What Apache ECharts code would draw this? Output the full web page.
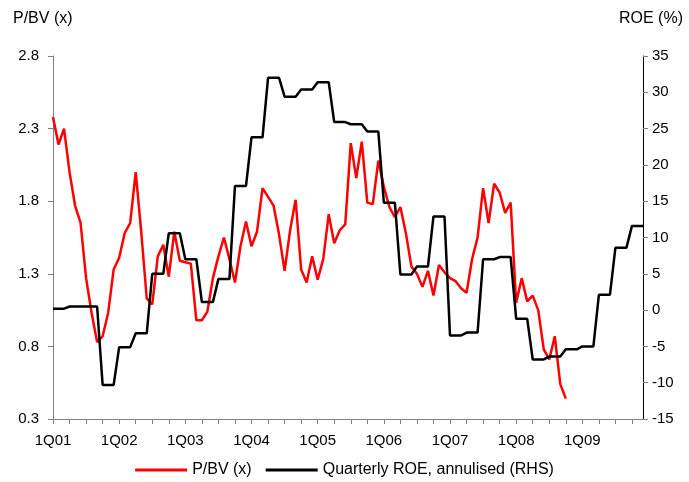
<!DOCTYPE html>
<html>
<head>
<meta charset="utf-8">
<script src="https://cdn.jsdelivr.net/npm/echarts@6/dist/echarts.min.js"></script>
<style>
  html, body { margin: 0; padding: 0; background: #fff; }
  #main { width: 689px; height: 482px; }
</style>
</head>
<body>
<div id="main"></div>
<script>
// year labels shown on the x axis (one per January)
var yearLabels = ['1Q01', '1Q02', '1Q03', '1Q04', '1Q05', '1Q06', '1Q07', '1Q08', '1Q09'];
var years = ['01', '02', '03', '04', '05', '06', '07', '08', '09'];
var monthNames = ['Jan', 'Feb', 'Mar', 'Apr', 'May', 'Jun', 'Jul', 'Aug', 'Sep', 'Oct', 'Nov', 'Dec'];

// P/BV (x), monthly, Jan 01 .. Oct 08
var pbv = [
    2.38, 2.19, 2.30, 2.00, 1.77, 1.65, 1.27, 1.03, 0.83, 0.87, 1.03, 1.33,
    1.41, 1.58, 1.65, 2.00, 1.59, 1.13, 1.09, 1.42, 1.50, 1.28, 1.59, 1.39,
    1.38, 1.37, 0.98, 0.98, 1.04, 1.27, 1.42, 1.55, 1.40, 1.24, 1.49, 1.66,
    1.49, 1.59, 1.89, 1.83, 1.77, 1.57, 1.32, 1.60, 1.81, 1.33, 1.24, 1.42,
    1.26, 1.40, 1.71, 1.51, 1.60, 1.64, 2.20, 1.96, 2.21, 1.79, 1.78, 2.08,
    1.90, 1.76, 1.69, 1.76, 1.58, 1.35, 1.30, 1.21, 1.32, 1.15, 1.36, 1.31,
    1.27, 1.25, 1.20, 1.17, 1.40, 1.55, 1.89, 1.65, 1.92, 1.86, 1.72, 1.79,
    1.10, 1.27, 1.11, 1.15, 1.05, 0.78, 0.71, 0.87, 0.54, 0.44
];

// quarterly ROE, annualised (%), shown for each month of its quarter
var roe = [
    0.2, 0.2, 0.2,   0.5, 0.5, 0.5,   0.5, 0.5, 0.5,   -10.3, -10.3, -10.3,
    -5.1, -5.1, -5.1,   -3.2, -3.2, -3.2,   5.0, 5.0, 5.0,   10.6, 10.6, 10.6,
    7.0, 7.0, 7.0,   1.1, 1.1, 1.1,   4.3, 4.3, 4.3,   17.1, 17.1, 17.1,
    23.8, 23.8, 23.8,   32.0, 32.0, 32.0,   29.4, 29.4, 29.4,   30.4, 30.4, 30.4,
    31.4, 31.4, 31.4,   25.9, 25.9, 25.9,   25.6, 25.6, 25.6,   24.6, 24.6, 24.6,
    14.8, 14.8, 14.8,   4.9, 4.9, 4.9,   6.0, 6.0, 6.0,   12.9, 12.9, 12.9,
    -3.5, -3.5, -3.5,   -3.1, -3.1, -3.1,   7.0, 7.0, 7.0,   7.3, 7.3, 7.3,
    -1.2, -1.2, -1.2,   -6.8, -6.8, -6.8,   -6.4, -6.4, -6.4,   -5.4, -5.4, -5.4,
    -5.0, -5.0, -5.0,   2.1, 2.1, 2.1,   8.6, 8.6, 8.6,   11.6, 11.6, 11.6
];

var leftTicks = [0.3, 0.8, 1.3, 1.8, 2.3, 2.8];

var months = [];
years.forEach(function (y) {
    monthNames.forEach(function (m) { months.push(m + '-' + y); });
});

var font = '"Liberation Sans", Arial, sans-serif';

var myChart = echarts.init(document.getElementById('main'));
myChart.setOption({
    animation: false,
    backgroundColor: '#fff',
    textStyle: { fontFamily: font, color: '#000' },
    grid: { left: 53, right: 46, top: 56, bottom: 63 },
    graphic: [
        { type: 'text', left: 13, top: 11, style: { text: 'P/BV (x)', font: '16px ' + font, fill: '#000' } },
        { type: 'text', right: 6, top: 11, style: { text: 'ROE (%)', font: '16px ' + font, fill: '#000' } }
    ],
    legend: {
        top: 457,
        left: 'center',
        itemWidth: 52,
        itemHeight: 3,
        itemGap: 14,
        icon: 'rect',
        textStyle: { fontSize: 16, color: '#000', fontFamily: font },
        data: ['P/BV (x)', 'Quarterly ROE, annulised (RHS)']
    },
    xAxis: {
        type: 'category',
        data: months,
        boundaryGap: false,
        axisLine: { onZero: false, lineStyle: { color: '#808080', width: 1 } },
        axisTick: {
            length: 5,
            interval: function (i) { return i % 3 === 0; },
            lineStyle: { color: '#808080' }
        },
        axisLabel: {
            interval: function (i) { return i % 12 === 0; },
            formatter: function (v, i) { return yearLabels[i / 12]; },
            fontSize: 15,
            color: '#000',
            margin: 14
        },
        splitLine: { show: false }
    },
    yAxis: [{
        type: 'value',
        min: 0.3,
        max: 2.8,
        position: 'left',
        axisLine: { show: true, lineStyle: { color: '#808080' } },
        axisTick: { show: true, length: 5, customValues: leftTicks, lineStyle: { color: '#808080' } },
        axisLabel: {
            customValues: leftTicks,
            formatter: function (v) { return v.toFixed(1); },
            fontSize: 15,
            color: '#000',
            margin: 14
        },
        splitLine: { show: false }
    }, {
        type: 'value',
        min: -15,
        max: 35,
        interval: 5,
        position: 'right',
        axisLine: { show: true, lineStyle: { color: '#000' } },
        axisTick: { show: true, length: 5, lineStyle: { color: '#808080' } },
        axisLabel: { fontSize: 15, color: '#000', margin: 9 },
        splitLine: { show: false }
    }],
    series: [{
        name: 'P/BV (x)',
        type: 'line',
        yAxisIndex: 0,
        data: pbv,
        symbol: 'none',
        itemStyle: { color: '#ff0000' },
        lineStyle: { color: '#ff0000', width: 2.5 }
    }, {
        name: 'Quarterly ROE, annulised (RHS)',
        type: 'line',
        yAxisIndex: 1,
        data: roe,
        symbol: 'none',
        itemStyle: { color: '#000' },
        lineStyle: { color: '#000', width: 2.5 }
    }]
});
</script>
</body>
</html>
